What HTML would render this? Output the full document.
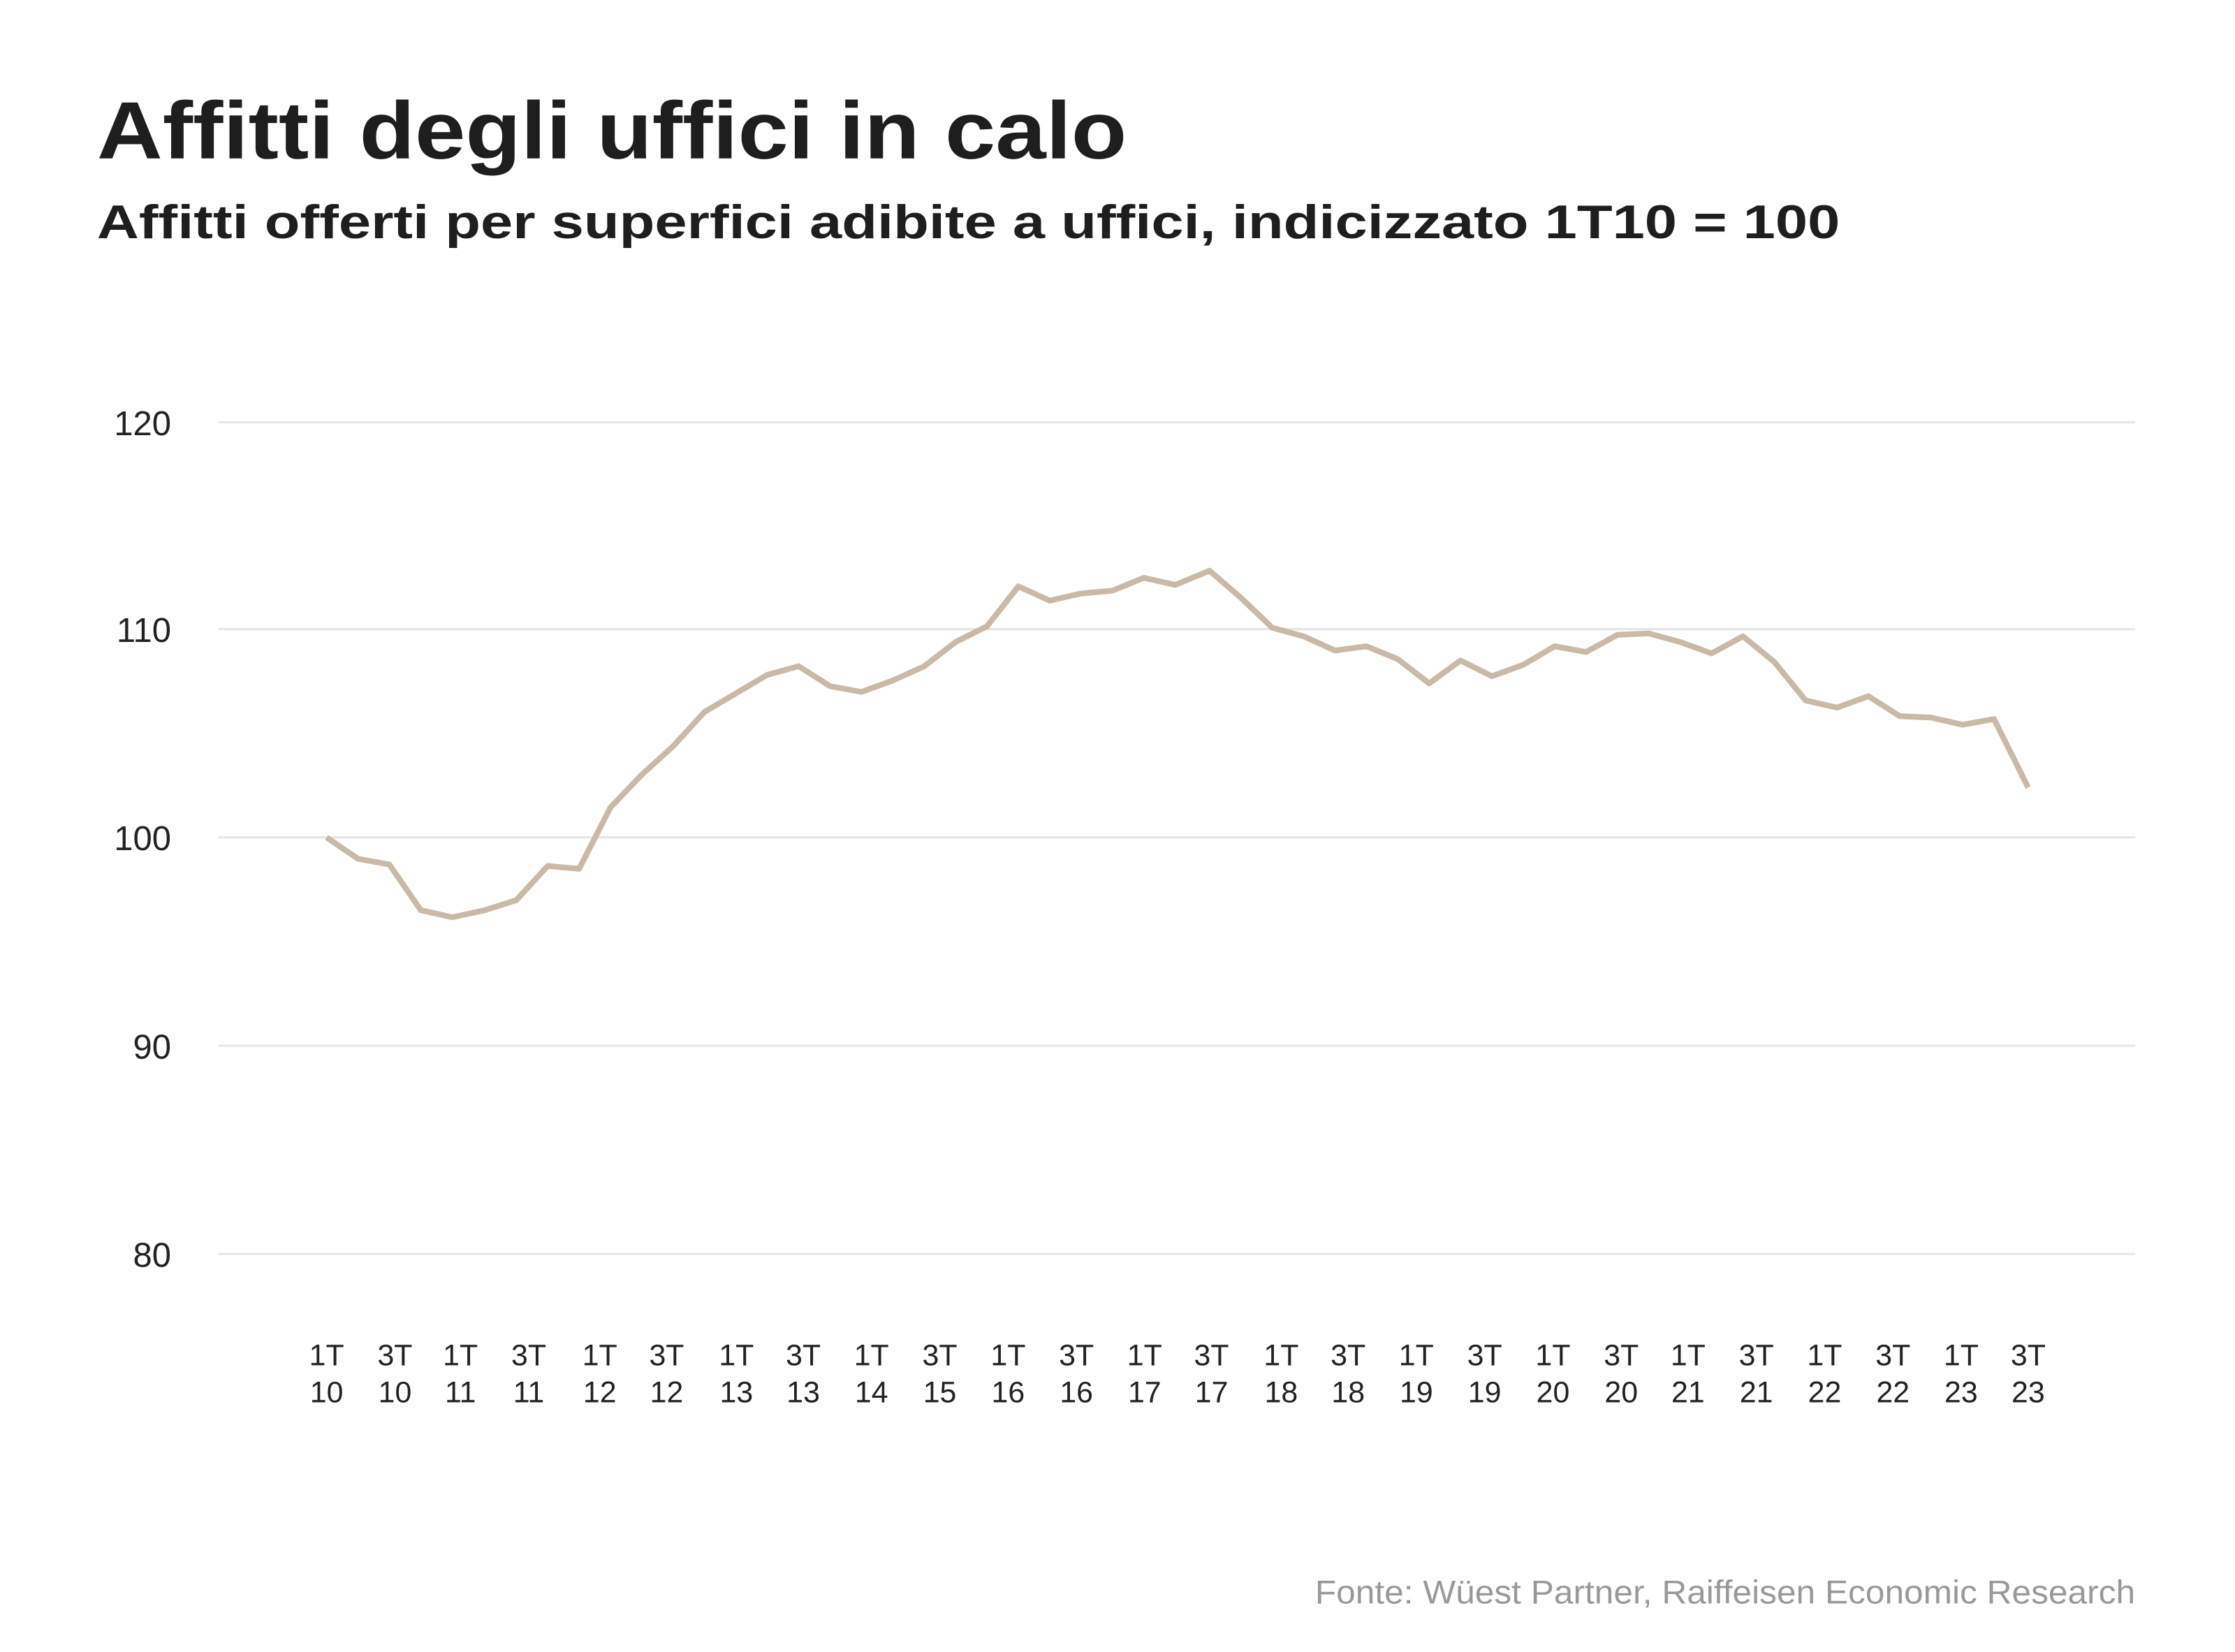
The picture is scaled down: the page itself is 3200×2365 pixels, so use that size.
<!DOCTYPE html>
<html><head><meta charset="utf-8"><style>html,body{margin:0;padding:0;background:#fff}svg{display:block}</style></head>
<body>
<svg width="3200" height="2365" viewBox="0 0 1567 1158" xmlns="http://www.w3.org/2000/svg" font-family="'Liberation Sans', sans-serif">
<rect width="1567" height="1158" fill="#fff"/>
<text x="68" y="111" font-size="57" font-weight="bold" fill="#1e1e1e" textLength="722" lengthAdjust="spacingAndGlyphs">Affitti degli uffici in calo</text>
<text x="68" y="167" font-size="33" font-weight="bold" fill="#1e1e1e" textLength="1222" lengthAdjust="spacingAndGlyphs">Affitti offerti per superfici adibite a uffici, indicizzato 1T10 = 100</text>
<g stroke="#e6e6e6" stroke-width="1.5">
<line x1="153" y1="296" x2="1497" y2="296"/>
<line x1="153" y1="441" x2="1497" y2="441"/>
<line x1="153" y1="587" x2="1497" y2="587"/>
<line x1="153" y1="733" x2="1497" y2="733"/>
<line x1="153" y1="879" x2="1497" y2="879"/>
</g>
<g font-size="24" fill="#222" text-anchor="end">
<text x="120" y="305">120</text>
<text x="120" y="450">110</text>
<text x="120" y="596">100</text>
<text x="120" y="742">90</text>
<text x="120" y="888">80</text>
</g>
<polyline fill="none" stroke="#c9b9a6" stroke-width="4" stroke-linejoin="round" points="229,587 251,602 273,606 295,638 317,643 340,638 362,631 384,607 406,609 428,566 450,543 472,523 494,499 516,486 538,473 560,467 582,481 604,485 626,477 648,467 670,450 692,439 714,411 736,421 758,416 780,414 802,405 824,410 848,400 870,419 892,440 914,446 936,456 958,453 980,462 1002,479 1024,463 1046,474 1068,466 1090,453 1112,457 1134,445 1156,444 1178,450 1200,458 1222,446 1244,464 1266,491 1288,496 1310,488 1332,502 1354,503 1376,508 1398,504 1422,552"/>
<g font-size="21" fill="#222" text-anchor="middle">
<text x="229" y="957">1T</text><text x="229" y="983">10</text>
<text x="276.9" y="957">3T</text><text x="276.9" y="983">10</text>
<text x="322.8" y="957">1T</text><text x="322.8" y="983">11</text>
<text x="370.7" y="957">3T</text><text x="370.7" y="983">11</text>
<text x="420.5" y="957">1T</text><text x="420.5" y="983">12</text>
<text x="467.4" y="957">3T</text><text x="467.4" y="983">12</text>
<text x="516.3" y="957">1T</text><text x="516.3" y="983">13</text>
<text x="563.2" y="957">3T</text><text x="563.2" y="983">13</text>
<text x="611" y="957">1T</text><text x="611" y="983">14</text>
<text x="658.9" y="957">3T</text><text x="658.9" y="983">15</text>
<text x="706.8" y="957">1T</text><text x="706.8" y="983">16</text>
<text x="754.7" y="957">3T</text><text x="754.7" y="983">16</text>
<text x="802.5" y="957">1T</text><text x="802.5" y="983">17</text>
<text x="849.4" y="957">3T</text><text x="849.4" y="983">17</text>
<text x="898.3" y="957">1T</text><text x="898.3" y="983">18</text>
<text x="945.2" y="957">3T</text><text x="945.2" y="983">18</text>
<text x="993" y="957">1T</text><text x="993" y="983">19</text>
<text x="1040.9" y="957">3T</text><text x="1040.9" y="983">19</text>
<text x="1088.8" y="957">1T</text><text x="1088.8" y="983">20</text>
<text x="1136.7" y="957">3T</text><text x="1136.7" y="983">20</text>
<text x="1183.5" y="957">1T</text><text x="1183.5" y="983">21</text>
<text x="1231.4" y="957">3T</text><text x="1231.4" y="983">21</text>
<text x="1279.3" y="957">1T</text><text x="1279.3" y="983">22</text>
<text x="1327.2" y="957">3T</text><text x="1327.2" y="983">22</text>
<text x="1375" y="957">1T</text><text x="1375" y="983">23</text>
<text x="1422" y="957">3T</text><text x="1422" y="983">23</text>
</g>
<text x="1497" y="1124" font-size="23" fill="#999" text-anchor="end" textLength="575" lengthAdjust="spacingAndGlyphs">Fonte: Wüest Partner, Raiffeisen Economic Research</text>
</svg>
</body></html>
